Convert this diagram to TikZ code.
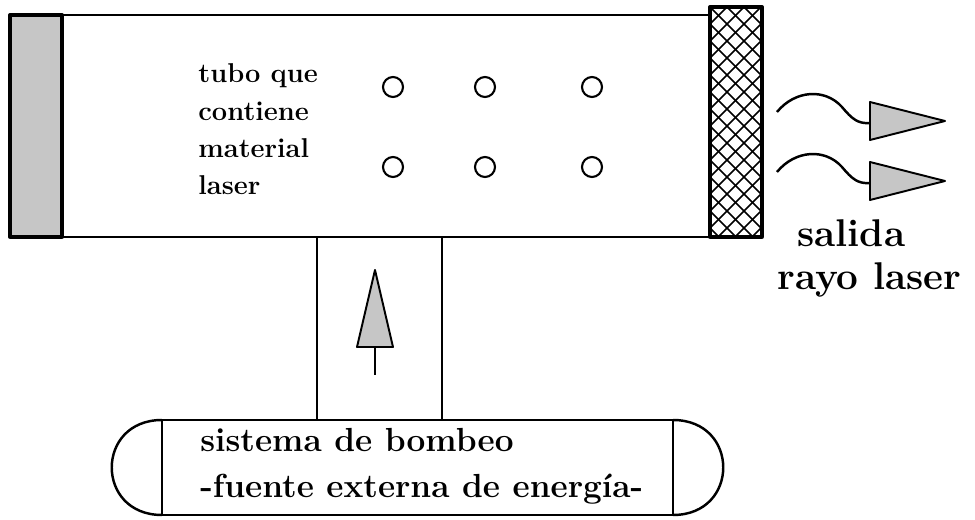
\documentclass[tikz,border=0pt]{standalone}
\usepackage{tikz}

\begin{document}
\begin{tikzpicture}[x=0.02cm, y=-0.02cm, line join=round,
    wall/.style={line width=1.4pt},
    endcap/.style={line width=1.9pt},
    shade/.style={fill=gray!45, draw=black, line width=1.1pt},
    atom/.style={line width=1.2pt},
    tubetext/.style={inner sep=0pt, anchor=base west, font=\bfseries\fontsize{15.5}{18}\selectfont},
    pumptext/.style={inner sep=0pt, anchor=base west, font=\bfseries\fontsize{19}{23}\selectfont},
    outtext/.style={inner sep=0pt, anchor=base west, font=\bfseries\fontsize{22}{26}\selectfont}]
    \useasboundingbox (0,0) rectangle (975,520);

    % Tube walls
    \draw[wall] (62,15) -- (710,15);
    \draw[wall] (62,237) -- (710,237);

    % Left mirror (full reflector)
    \draw[endcap, fill=gray!45] (10,15) rectangle (62,237);

    % Right mirror (partial reflector)
    \begin{scope}
        \clip (710,7) rectangle (762,237);
        \foreach \k in {-14,...,3}
            \draw[line width=0.9pt] (710+17*\k,7) -- ++(240,240);
        \foreach \k in {0,...,17}
            \draw[line width=0.9pt] (710+17*\k,7) -- ++(-240,240);
    \end{scope}
    \draw[endcap] (710,7) rectangle (762,237);

    % Atoms
    \foreach \x in {393,485,592}
        \foreach \y in {87,167}
            \draw[atom] (\x,\y) circle[radius=10];

    % Tube label
    \node[tubetext] (tube1) at (198,83) {tubo que};
    \node[tubetext] (tube2) at (198,121) {contiene};
    \node[tubetext] (tube3) at (198,158) {material};
    \node[tubetext] (tube4) at (198,195) {laser};

    % Pump channel
    \draw[wall] (317,237) -- (317,420);
    \draw[wall] (442,237) -- (442,420);
    \draw[wall] (375,375) -- (375,347);
    \draw[shade] (357,347) -- (375,270) -- (393,347) -- cycle;

    % Pump box
    \draw[wall] (162,420) -- (673,420);
    \draw[wall] (162,515) -- (673,515);
    \draw[wall] (162,420) -- (162,515);
    \draw[wall] (673,420) -- (673,515);
    \draw[wall] (162,420) .. controls (95,420) and (95,515) .. (162,515);
    \draw[wall] (673,420) .. controls (740,420) and (740,515) .. (673,515);
    \node[pumptext] (pump1) at (200,452) {sistema de bombeo};
    \node[pumptext] (pump2) at (200,498) {-fuente externa de energía-};

    % Output beam
    \foreach \y in {0,60}{
        \draw[wall] (777,112+\y) .. controls (795,90+\y) and (825,88+\y) .. (842,107+\y)
            .. controls (852,119+\y) and (858,124+\y) .. (870,123+\y);
        \draw[shade] (870,102+\y) -- (945,121+\y) -- (870,140+\y) -- cycle;
    }
    \node[outtext] (out1) at (797,247) {salida};
    \node[outtext] (out2) at (777,290) {rayo laser};
\end{tikzpicture}
\end{document}
